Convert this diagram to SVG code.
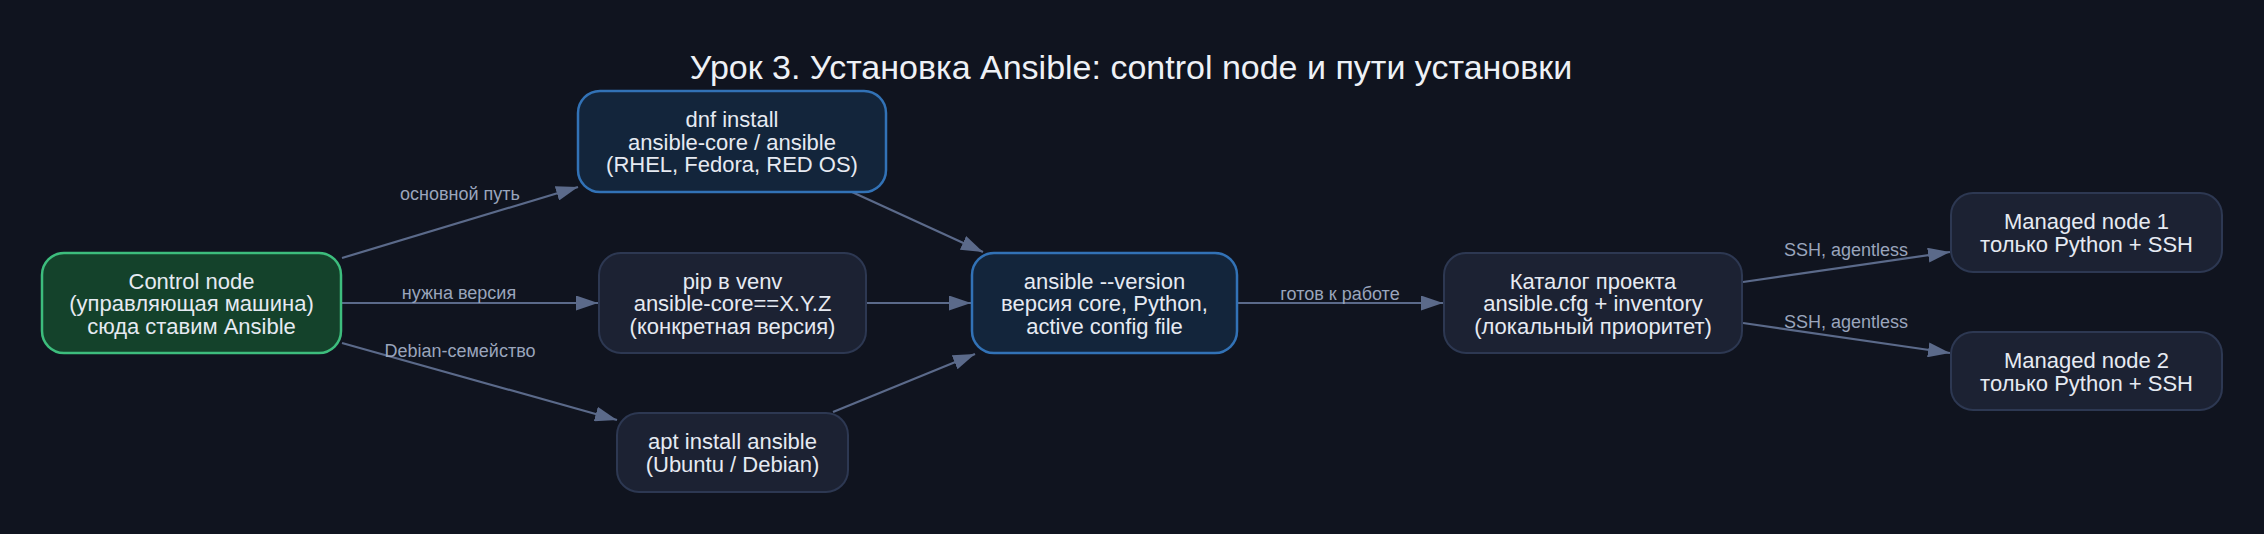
<svg xmlns="http://www.w3.org/2000/svg" width="2264" height="534" viewBox="0 0 2264 534">
<style>
.bg{fill:#10141f}
.n rect{fill:#1c2233;stroke:#2d3852;stroke-width:2}
.n.blue rect{fill:#13253b;stroke:#3272b6;stroke-width:2.5}
.n.green rect{fill:#14422b;stroke:#3dbd7d;stroke-width:2.5}
.n text{font-family:"Liberation Sans",Arial,sans-serif;font-size:22px;fill:#e6eaf2;text-anchor:middle}
.title{font-family:"Liberation Sans",Arial,sans-serif;font-size:34px;fill:#eef1f6;text-anchor:middle}
.e line{stroke:#5b6a8a;stroke-width:2.2;fill:none;marker-end:url(#ah)}
.e text{font-family:"Liberation Sans",Arial,sans-serif;font-size:18px;fill:#9aa5bc;text-anchor:middle}
</style>
<defs>
<marker id="ah" markerUnits="userSpaceOnUse" markerWidth="22" markerHeight="15" refX="22" refY="7.5" orient="auto">
<path d="M0,0 L22,7.5 L0,15 Z" fill="#5b6a8a"/>
</marker>
</defs>
<rect class="bg" x="0" y="0" width="2264" height="534"/>
<text class="title" x="1131" y="79">Урок 3. Установка Ansible: control node и пути установки</text>

<g id="edges" class="e">
<line x1="342" y1="258" x2="578" y2="187"/>
<text x="460" y="200">основной путь</text>
<line x1="341" y1="303" x2="598" y2="303"/>
<text x="459" y="299">нужна версия</text>
<line x1="342" y1="343" x2="617" y2="420"/>
<text x="460" y="357">Debian-семейство</text>
<line x1="852" y1="192" x2="983" y2="252"/>
<line x1="866" y1="303" x2="971" y2="303"/>
<line x1="833" y1="412" x2="975" y2="354"/>
<line x1="1237" y1="303" x2="1443" y2="303"/>
<text x="1340" y="300">готов к работе</text>
<line x1="1743" y1="282" x2="1950" y2="252"/>
<text x="1846" y="256">SSH, agentless</text>
<line x1="1743" y1="323" x2="1950" y2="353"/>
<text x="1846" y="328">SSH, agentless</text>
</g>

<g id="control" class="n green">
<rect x="42" y="253" width="299" height="100" rx="22"/>
<text x="191.5" y="288.5">Control node</text>
<text x="191.5" y="311">(управляющая машина)</text>
<text x="191.5" y="333.5">сюда ставим Ansible</text>
</g>
<g id="dnf" class="n blue">
<rect x="578" y="91" width="308" height="101" rx="22"/>
<text x="732" y="127">dnf install</text>
<text x="732" y="149.5">ansible-core / ansible</text>
<text x="732" y="172">(RHEL, Fedora, RED OS)</text>
</g>
<g id="pip" class="n">
<rect x="599" y="253" width="267" height="100" rx="22"/>
<text x="732.5" y="288.5">pip в venv</text>
<text x="732.5" y="311">ansible-core==X.Y.Z</text>
<text x="732.5" y="333.5">(конкретная версия)</text>
</g>
<g id="apt" class="n">
<rect x="617" y="413" width="231" height="79" rx="22"/>
<text x="732.5" y="449.25">apt install ansible</text>
<text x="732.5" y="471.75">(Ubuntu / Debian)</text>
</g>
<g id="version" class="n blue">
<rect x="972" y="253" width="265" height="100" rx="22"/>
<text x="1104.5" y="288.5">ansible --version</text>
<text x="1104.5" y="311">версия core, Python,</text>
<text x="1104.5" y="333.5">active config file</text>
</g>
<g id="project" class="n">
<rect x="1444" y="253" width="298" height="100" rx="22"/>
<text x="1593" y="288.5">Каталог проекта</text>
<text x="1593" y="311">ansible.cfg + inventory</text>
<text x="1593" y="333.5">(локальный приоритет)</text>
</g>
<g id="managed1" class="n">
<rect x="1951" y="193" width="271" height="79" rx="22"/>
<text x="2086.5" y="229.25">Managed node 1</text>
<text x="2086.5" y="251.75">только Python + SSH</text>
</g>
<g id="managed2" class="n">
<rect x="1951" y="332" width="271" height="78" rx="22"/>
<text x="2086.5" y="368">Managed node 2</text>
<text x="2086.5" y="390.5">только Python + SSH</text>
</g>
</svg>
